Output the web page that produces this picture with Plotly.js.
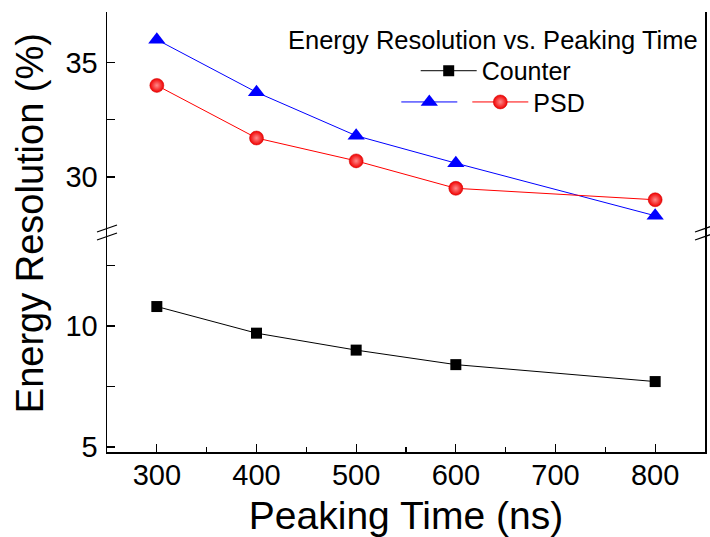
<!DOCTYPE html>
<html>
<head>
<meta charset="utf-8">
<script src="https://cdn.plot.ly/plotly-3.0.1.min.js"></script>
<style>html,body{margin:0;padding:0;background:#fff;}#chart{width:710px;height:537px;}</style>
</head>
<body>
<div id="chart"></div>
<script>
// Data
const peakingTime = [300, 400, 500, 600, 800];
const counterRes = [10.8, 9.7, 9.0, 8.4, 7.7];
const psdBlueRes = [36.0, 33.7, 31.8, 30.6, 28.3];
const psdRedRes = [34.0, 31.7, 30.7, 29.5, 29.0];
const xTicks = [300, 400, 500, 600, 700, 800];
const lowerTicks = [5, 10];
const upperTicks = [30, 35];

const FONT = "'Liberation Sans', Arial, sans-serif";

const traces = [
  {
    x: peakingTime, y: counterRes, xaxis: 'x', yaxis: 'y', name: 'Counter',
    mode: 'lines+markers', legend: 'legend',
    line: {color: '#000000', width: 1},
    marker: {symbol: 'square', size: 11, color: '#000000'}
  },
  {
    x: peakingTime, y: psdBlueRes, xaxis: 'x', yaxis: 'y2', name: '',
    mode: 'lines+markers', legend: 'legend2',
    line: {color: '#0000ff', width: 1},
    marker: {symbol: 'triangle-up', size: 15, color: '#0000ff'}
  },
  {
    x: peakingTime, y: psdRedRes, xaxis: 'x', yaxis: 'y2', name: 'PSD',
    mode: 'lines+markers', legend: 'legend2',
    line: {color: '#ff0000', width: 1},
    marker: {symbol: 'circle', size: 14, color: '#f00000',
             gradient: {type: 'radial', color: '#ff8a8a'},
             line: {color: '#d00000', width: 0.5}}
  }
];

function brk(xa, yc) {
  return [
    {type: 'line', xref: 'paper', yref: 'paper', xsizemode: 'pixel', ysizemode: 'pixel',
     xanchor: xa, yanchor: yc, x0: -10, x1: 10, y0: 0, y1: 7, line: {color: '#000', width: 1.3}},
    {type: 'line', xref: 'paper', yref: 'paper', xsizemode: 'pixel', ysizemode: 'pixel',
     xanchor: xa, yanchor: yc, x0: -10, x1: 10, y0: -8, y1: -1, line: {color: '#000', width: 1.3}}
  ];
}

const axisCommon = {
  showgrid: false, zeroline: false, showline: true, linecolor: '#000', linewidth: 1.5,
  ticks: 'inside', ticklen: 8, tickwidth: 1.3, tickcolor: '#000',
  tickfont: {family: FONT, size: 29, color: '#000'}
};

const layout = {
  width: 710, height: 537,
  margin: {l: 107, r: 5, t: 12, b: 85},
  paper_bgcolor: '#fff', plot_bgcolor: '#fff',
  font: {family: FONT, color: '#000'},
  showlegend: true,
  xaxis: Object.assign({}, axisCommon, {
    anchor: 'y', range: [250, 850], tickvals: xTicks, ticklabelstandoff: -3,
    minor: {dtick: 50, ticklen: 5, tickwidth: 1.2, tickcolor: '#000', ticks: 'inside'},
    title: {text: 'Peaking Time (ns)', font: {family: FONT, size: 39, color: '#000'}, standoff: 12}
  }),
  xaxis2: Object.assign({}, axisCommon, {
    anchor: 'y2', overlaying: 'x', side: 'top', matches: 'x', range: [250, 850],
    dtick: 50, tick0: 0, ticklen: 4, showticklabels: false
  }),
  yaxis: Object.assign({}, axisCommon, {
    domain: [0, 0.5], range: [4.79, 13.88], tickvals: lowerTicks, mirror: true,
    ticklabelstandoff: 2,
    minor: {dtick: 2.5, tick0: 0, ticklen: 8, tickwidth: 1.3, tickcolor: '#000', ticks: 'inside'}
  }),
  yaxis2: Object.assign({}, axisCommon, {
    domain: [0.5, 1], range: [27.59, 37.21], tickvals: upperTicks, mirror: true,
    anchor: 'x', ticklabelstandoff: 2,
    minor: {dtick: 2.5, tick0: 0, ticklen: 8, tickwidth: 1.3, tickcolor: '#000', ticks: 'inside'}
  }),
  legend: {
    x: 0.65, xanchor: 'center', y: 0.866, yanchor: 'middle',
    bgcolor: 'rgba(0,0,0,0)', borderwidth: 0, itemwidth: 56,
    font: {family: FONT, size: 25, color: '#000'}
  },
  legend2: {
    x: 0.646, xanchor: 'center', y: 0.795, yanchor: 'middle', orientation: 'h',
    bgcolor: 'rgba(0,0,0,0)', borderwidth: 0, itemwidth: 56,
    font: {family: FONT, size: 25, color: '#000'}
  },
  annotations: [
    {text: 'Energy Resolution vs. Peaking Time', xref: 'paper', yref: 'paper',
     x: 0.6455, y: 0.936, xanchor: 'center', yanchor: 'middle', showarrow: false,
     font: {family: FONT, size: 25.5, color: '#000'}},
    {text: 'Energy Resolution (%)', xref: 'paper', yref: 'paper', x: 0, y: 0.52,
     xshift: -77, textangle: -90, showarrow: false, xanchor: 'center', yanchor: 'middle',
     font: {family: FONT, size: 38, color: '#000'}}
  ],
  shapes: [].concat(brk(0, 0.5), brk(1, 0.5))
};

Plotly.newPlot('chart', traces, layout, {displayModeBar: false, staticPlot: true});
</script>
</body>
</html>
